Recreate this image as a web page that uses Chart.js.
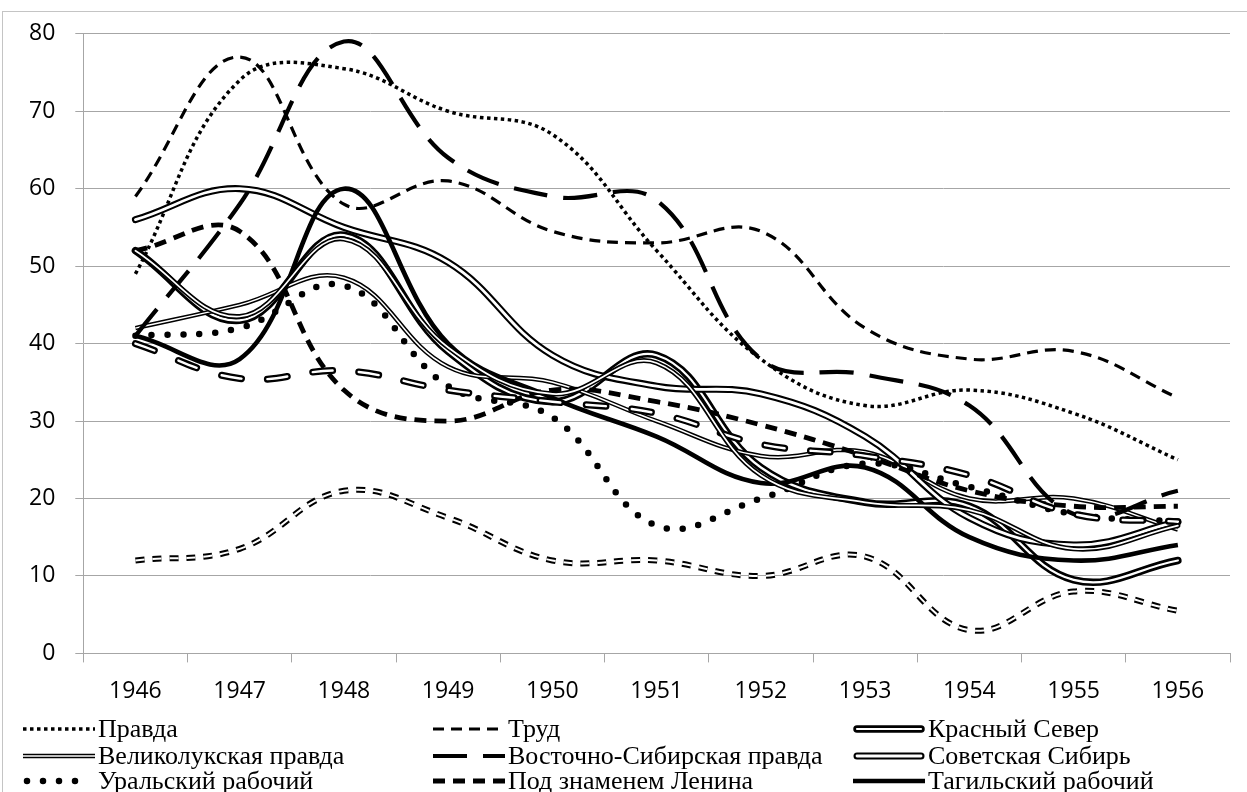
<!DOCTYPE html>
<html><head><meta charset="utf-8">
<script src="https://cdn.jsdelivr.net/npm/chart.js@4.4.1/dist/chart.umd.min.js"></script>
<style>
html,body{margin:0;padding:0;background:#fff;overflow:hidden;}
#wrap{position:relative;width:1247px;height:792px;}
#frame{position:absolute;left:2px;top:11px;width:1260px;height:800px;border-left:1px solid #c4c4c4;border-top:1px solid #c4c4c4;}
#c{position:absolute;left:0;top:0;}
.leg{position:absolute;height:28px;display:flex;align-items:center;font-family:"Liberation Serif","Times New Roman",serif;font-size:26px;line-height:28px;color:#000;white-space:nowrap;}
.leg svg{flex:none;margin-right:2px;}
</style></head><body>
<div id="wrap"><div id="frame"></div><canvas id="c" width="1247" height="722"></canvas><div id="legend"></div></div>
<script>
// ---- data ----
const years = ['1946','1947','1948','1949','1950','1951','1952','1953','1954','1955','1956'];
const pravda = [49, 74, 75.5, 70, 67, 52, 38, 32, 34, 31, 25];
const trud = [59, 77, 58, 61, 54.5, 53, 54.5, 42, 38, 39, 33];
const krasnyySever = [52, 43, 54, 39, 32.5, 38.5, 24, 19.5, 19, 9.5, 12];
const velikolukskayaPravda = [42, 45, 48.5, 37, 35, 30, 25.5, 26, 20, 20, 16];
const vostSibPravda = [41, 58, 79, 64, 59, 58.5, 38, 36, 32, 18, 21];
const sovetskayaSibir = [56, 60, 55, 50.5, 38.5, 34.5, 33.5, 28, 17.5, 14, 17];
const uralskyRabochy = [41, 42, 47.5, 34.5, 30.5, 16.5, 20, 24.5, 21.5, 18, 17];
const podZnamenemLenina = [52, 54.5, 34, 30, 34, 32.5, 29.5, 25.5, 21, 19, 19];
const tagilskyRabochy = [41, 38, 60, 40, 33, 28, 22, 24, 15, 12, 14];
const ryad10 = [40, 35.5, 36.5, 34, 32.5, 31, 27, 25.5, 23, 18, 17];
const ryad11 = [12, 13.5, 21, 17.5, 12, 12, 10, 12.5, 3, 8, 5.5];
const ryad12 = [52, 43.5, 53.5, 39.5, 33.5, 37.5, 23, 19.5, 18.5, 13.5, 16.5];

// ---- series styles ----
const series = [
  {label:'Правда', data:pravda, w:3.5, dash:[3.5,3.5], cap:'butt', legend:true},
  {label:'Труд', data:trud, w:3.2, dash:[11,7], cap:'butt', legend:true},
  {label:'Красный Север', data:krasnyySever, w:7.5, inner:2.2, dash:[], cap:'round', legend:true},
  {label:'Великолукская правда', data:velikolukskayaPravda, w:4.5, inner:1.5, dash:[], cap:'butt', legend:true},
  {label:'Восточно-Сибирская правда', data:vostSibPravda, w:4.2, dash:[34,16], cap:'butt', legend:true},
  {label:'Советская Сибирь', data:sovetskayaSibir, w:7, inner:2.8, dash:[], cap:'round', legend:true},
  {label:'Уральский рабочий', data:uralskyRabochy, w:6.5, dash:[0,16], cap:'round', legend:true},
  {label:'Под знаменем Ленина', data:podZnamenemLenina, w:4.8, dash:[12,8], cap:'butt', legend:true},
  {label:'Тагильский рабочий', data:tagilskyRabochy, w:4.6, dash:[], cap:'butt', legend:true},
  {label:'Ряд10', data:ryad10, w:7, inner:2.4, dash:[20,26], cap:'round', legend:false},
  {label:'Ряд11', data:ryad11, w:6, inner:2, dash:[9,8], cap:'butt', legend:false},
  {label:'Ряд12', data:ryad12, w:5, inner:1.7, dash:[], cap:'round', legend:false}
];

const TENSION = 0.4;
const datasets = [];
let ord = 100;
series.forEach(s => {
  const base = {data:s.data, pointRadius:0, pointHoverRadius:0, tension:TENSION, fill:false,
    borderJoinStyle:'round', borderCapStyle:s.cap};
  datasets.push(Object.assign({}, base, {label:s.label, borderColor:'#000', borderWidth:s.w, borderDash:s.dash, order:ord+1}));
  if (s.inner) {
    datasets.push(Object.assign({}, base, {label:s.label+' (inner)', borderColor:'#fff', borderWidth:s.inner, borderDash:s.dash, order:ord}));
  }
  ord -= 2;
});

const GRID = '#a6a6a6';
new Chart(document.getElementById('c'), {
  type:'line',
  data:{labels:years, datasets},
  options:{
    responsive:false, animation:false, devicePixelRatio:1,
    layout:{padding:{left:9, right:17, top:29, bottom:2}},
    plugins:{legend:{display:false}, tooltip:{enabled:false}},
    scales:{
      x:{
        offset:true,
        grid:{offset:true, drawOnChartArea:false, drawTicks:true, tickLength:9, color:GRID},
        border:{color:GRID, width:1},
        ticks:{color:'#000', padding:15, font:{family:'"Open Sans", sans-serif', size:23}, maxRotation:0, autoSkip:false}
      },
      y:{
        min:0, max:80,
        grid:{color:GRID, lineWidth:1, tickLength:8, drawTicks:true},
        border:{color:GRID, width:1},
        ticks:{stepSize:10, color:'#000', padding:20, font:{family:'"Open Sans", sans-serif', size:23}}
      }
    }
  }
});

// ---- legend (HTML) ----
function sample(s) {
  const W = 74, H = 26, y = 13;
  let out = '';
  const dash = s.dash && s.dash.length ? ` stroke-dasharray="${s.dash.join(' ')}"` : '';
  const x1 = s.cap === 'round' ? 5 : 1, x2 = s.cap === 'round' ? W-5 : W-1;
  out += `<line x1="${x1}" y1="${y}" x2="${x2}" y2="${y}" stroke="#000" stroke-width="${s.w}" stroke-linecap="${s.cap}"${dash}/>`;
  if (s.inner) out += `<line x1="${x1}" y1="${y}" x2="${x2}" y2="${y}" stroke="#fff" stroke-width="${s.inner}" stroke-linecap="${s.cap}"${dash}/>`;
  return `<svg width="${W}" height="${H}" viewBox="0 0 ${W} ${H}">${out}</svg>`;
}
const colX = [22, 432, 852];
const rowY = [715, 742, 767];
const legEl = document.getElementById('legend');
series.filter(s => s.legend).forEach((s, i) => {
  const d = document.createElement('div');
  d.className = 'leg';
  d.style.left = colX[i % 3] + 'px';
  d.style.top = rowY[Math.floor(i / 3)] + 'px';
  d.innerHTML = sample(s) + '<span>' + s.label + '</span>';
  legEl.appendChild(d);
});
</script>
</body></html>
